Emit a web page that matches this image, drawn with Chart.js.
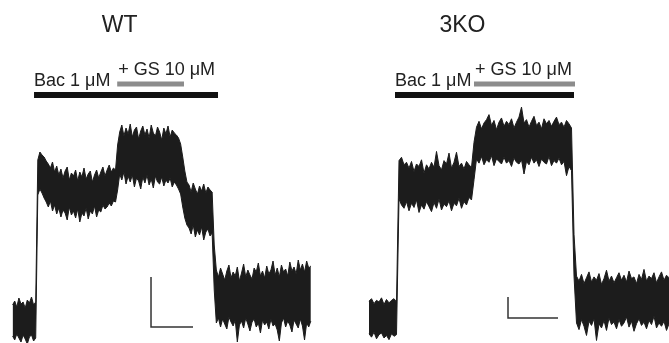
<!DOCTYPE html>
<html>
<head>
<meta charset="utf-8">
<script src="https://cdn.jsdelivr.net/npm/chart.js@4.4.1/dist/chart.umd.min.js"></script>
<style>
    html, body { margin: 0; padding: 0; background: #fff; }
    #wrap { position: relative; width: 669px; height: 343px; }
    canvas { position: absolute; top: 0; }
</style>
</head>
<body>
<div id="wrap">
    <canvas id="wtChart" width="335" height="343" style="left:0"></canvas>
    <canvas id="koChart" width="334" height="343" style="left:335px"></canvas>
</div>
<script>
// Whole-cell current traces, one sample per second, current in pA
// (upper / lower edge of the noisy trace)
const sampleStep = 1; // s

const wtUpper = [
    30, 38, 26, 44, 32, 36, 24, 40, 34, 46, 30, 36,
    320, 336, 330, 326, 318, 312, 304, 316, 296, 308, 290, 302, 284, 298, 306, 280, 294, 288, 300, 278,
    296, 286, 304, 282, 292, 298, 276, 290, 300, 284, 296, 306, 288, 300, 310, 296, 304, 300,
    350,
    376, 390, 368, 384, 372, 392, 366, 380, 386, 362, 378, 388, 370, 382, 364, 390, 374, 368, 386, 376,
    360, 384, 372, 388, 366, 380, 374, 370, 364,
    352, 326, 298, 276,
    270, 256, 274, 262, 252, 268, 258, 272, 254, 266, 260, 256,
    150,
    100, 86, 104, 92, 80, 98, 110, 84, 96, 88, 106, 78, 94, 112, 86, 100, 90, 82, 104, 96,
    114, 88, 98, 84, 108, 92, 100, 118, 90, 104, 86, 110, 96, 102, 88, 116, 98, 106, 92, 120,
    100, 112, 96, 118, 104, 108
];
const wtLower = [
    -32, -40, -28, -36, -44, -30, -38, -48, -34, -30, -42, -36,
    250, 262, 254, 244, 236, 226, 238, 218, 230, 212, 224, 206, 220, 214, 200, 226, 210, 218, 204, 222,
    196, 214, 208, 224, 202, 218, 212, 228, 206, 220, 216, 230, 222, 226, 234, 228, 238, 236,
    260,
    292, 280, 296, 272, 288, 276, 290, 266, 284, 278, 262, 286, 274, 290, 270, 282, 264, 288, 276, 272,
    286, 268, 280, 274, 284, 266, 276, 270, 262,
    252, 226, 204, 190,
    184, 172, 190, 166, 180, 170, 186, 160, 176, 182, 168, 174,
    60,
    -6, 4, -14, 2, -8, -18, 6, -4, -12, 0, -44, -10, -2, -16, 4, -8, -22, -4, 2, -14,
    -6, -26, 0, -10, -4, -18, 2, -12, -8, -20, -42, -6, 4, -14, -2, -10, -24, 0, -8, -16,
    2, -12, -40, -6, -14, -2
];

const koUpper = [
    40, 46, 34, 42, 38, 48, 32, 44, 36, 42, 46, 38,
    376, 384, 366, 372, 358, 374, 350, 368, 362, 378, 346, 366, 356, 372, 360,
    398, 364, 354, 376, 368, 394, 358, 372, 396, 362, 370, 356, 374, 366, 360,
    420,
    456, 470, 452, 466, 474, 486, 460, 472, 450, 468, 478, 458, 470, 462, 476, 454, 468, 480, 504,
    466, 474, 456, 470, 482, 460, 468, 452, 476, 464, 472, 458, 470, 480, 462, 468, 456, 472, 464, 454,
    200,
    100, 88, 104, 82, 96, 110, 86, 98, 90, 106, 80, 94, 114, 88, 100, 84, 96, 108, 90, 102,
    86, 112, 94, 98, 82, 104, 92, 116, 88, 100, 94, 108, 84, 98, 110, 90, 102, 96
];
const koLower = [
    -38, -46, -34, -50, -40, -36, -48, -42, -52, -38, -44, -40,
    284, 270, 262, 278, 256, 274, 264, 282, 252, 270, 260, 278, 266, 254, 276,
    262, 284, 258, 272, 266, 280, 256, 274, 268, 286, 262, 278, 270, 288, 282,
    330,
    380, 370, 386, 366, 378, 372, 388, 364, 380, 374, 368, 384, 370, 376, 362, 382, 372, 368, 378,
    344, 374, 366, 384, 370, 378, 362, 380, 372, 368, 386, 364, 376, 370, 382, 366, 374, 340, 362, 352,
    100,
    -12, -28, -4, -20, -42, -8, -18, -2, -54, -14, -24, -6, -30, 0, -16, -10, -26, -4, -20, -12,
    2, -22, -8, -32, -14, -2, -18, -10, -26, -6, -16, 4, -24, -12, -20, -8, -30, -14
];

// Drug application periods [start, end] in s
const drugNames = ['Bac 1 μM', '+ GS 10 μM'];
const wtBac = [10.2, 97.8];
const wtGs  = [49.8, 81.6];
const koBac = [10.4, 82.0];
const koGs  = [42.0, 82.4];

// Scale bars: time (s) and current (pA)
const scaleTime = [20, 20];
const scaleCurrent = [100, 50];

const FONT = '"Liberation Sans", Arial, Helvetica, sans-serif';
const TRACE = '#1c1c1c';

const annotate = {
    id: 'annotate',
    afterDatasetsDraw(chart, args, opts) {
        const { ctx, scales: { x, y } } = chart;
        ctx.save();
        ctx.fillStyle = '#222';
        ctx.textBaseline = 'alphabetic';
        ctx.font = '23px ' + FONT;
        ctx.textAlign = 'center';
        ctx.fillText(opts.title, x.getPixelForValue(opts.titleAt), 32);
        ctx.font = '18px ' + FONT;
        ctx.textAlign = 'left';
        opts.labels.forEach(l => {
            ctx.fillText(l.text, x.getPixelForValue(l.t) + l.dx, y.getPixelForValue(l.level) - 9);
        });
        ctx.restore();
    }
};

function toPoints(values) {
    return values.map((v, i) => ({ x: i * sampleStep, y: v }));
}

function makePanel(canvasId, p) {
    const bar = (range, level, color, width) => ({
        data: [{ x: range[0], y: level }, { x: range[1], y: level }],
        borderColor: color,
        borderWidth: width,
        borderCapStyle: 'butt',
        pointRadius: 0,
        fill: false
    });

    return new Chart(document.getElementById(canvasId), {
        type: 'line',
        data: {
            datasets: [
                {
                    data: toPoints(p.upper),
                    borderColor: TRACE,
                    backgroundColor: TRACE,
                    borderWidth: 1,
                    pointRadius: 0,
                    fill: '+1'
                },
                {
                    data: toPoints(p.lower),
                    borderColor: TRACE,
                    borderWidth: 1,
                    pointRadius: 0,
                    fill: false
                },
                bar(p.bac, p.bacLevel, '#111', 6),
                bar(p.gs, p.gsLevel, '#8c8c8c', 5),
                {
                    data: [
                        { x: p.scaleAt[0], y: p.scaleAt[1] + p.scaleI },
                        { x: p.scaleAt[0], y: p.scaleAt[1] },
                        { x: p.scaleAt[0] + p.scaleT, y: p.scaleAt[1] }
                    ],
                    borderColor: '#333',
                    borderWidth: 1.5,
                    pointRadius: 0,
                    fill: false
                }
            ]
        },
        options: {
            responsive: false,
            animation: false,
            layout: { padding: 0 },
            elements: { line: { tension: 0 } },
            scales: {
                x: { type: 'linear', display: false, min: p.xRange[0], max: p.xRange[1] },
                y: { type: 'linear', display: false, min: p.yRange[0], max: p.yRange[1] }
            },
            plugins: {
                legend: { display: false },
                tooltip: { enabled: false },
                annotate: {
                    title: p.title,
                    titleAt: p.titleAt,
                    labels: [
                        { text: drugNames[0], t: p.bac[0], level: p.bacLevel, dx: 0 },
                        { text: drugNames[1], t: p.gs[0], level: p.gsLevel, dx: 1 }
                    ]
                }
            }
        },
        plugins: [annotate]
    });
}

makePanel('wtChart', {
    title: 'WT', titleAt: 51,
    upper: wtUpper, lower: wtLower,
    bac: wtBac, gs: wtGs, bacLevel: 450, gsLevel: 472,
    scaleAt: [65.9, -14], scaleT: scaleTime[0], scaleI: scaleCurrent[0],
    xRange: [-6, 153.5], yRange: [-46, 640]
});

makePanel('koChart', {
    title: '3KO', titleAt: 37.4,
    upper: koUpper, lower: koLower,
    bac: koBac, gs: koGs, bacLevel: 533, gsLevel: 559,
    scaleAt: [55.6, 0], scaleT: scaleTime[1], scaleI: scaleCurrent[1],
    xRange: [-13.6, 120], yRange: [-60, 760]
});
</script>
</body>
</html>
